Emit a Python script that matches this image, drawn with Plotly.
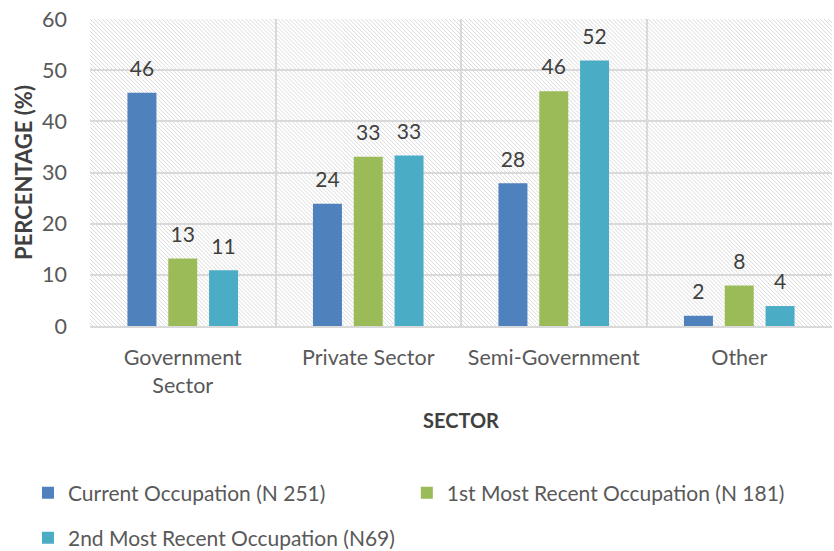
import base64
import plotly.graph_objects as go

categories = ["Government<br>Sector", "Private Sector", "Semi-Government", "Other"]
series_names = ["Current Occupation (N 251)", "1st Most Recent Occupation (N 181)",
                "2nd Most Recent Occupation (N69)"]
current = [45.6, 23.9, 27.9, 2.0]
first_recent = [13.2, 33.1, 45.9, 7.9]
second_recent = [10.9, 33.3, 51.9, 3.9]
colors = ["#4f81bd", "#9bbb59", "#4bacc6"]
y_ticks = [0, 10, 20, 30, 40, 50, 60]

FONT = "Lato, 'Open Sans', sans-serif"
legend_ids = ["legend", "legend2", "legend3"]

# value label raised above the bar by a small invisible second line
label_tpl = ("<span style='font-size:21px'>%{y:.0f}</span>"
             "<br><span style='color:rgba(0,0,0,0)'>.</span>")

fig = go.Figure()
for i, (name, vals) in enumerate(zip(series_names, [current, first_recent, second_recent])):
    fig.add_trace(go.Bar(
        x=categories, y=vals, name=name,
        marker=dict(color=colors[i], line=dict(width=0)),
        texttemplate=label_tpl, textposition="outside",
        textfont=dict(size=9, color="#404040", family=FONT),
        cliponaxis=False,
        legend=legend_ids[i],
    ))

# diagonal hatch background for the plot area
svg = (
    '<svg xmlns="http://www.w3.org/2000/svg" width="744" height="307">'
    '<defs><pattern id="h" patternUnits="userSpaceOnUse" width="4" height="4">'
    '<path d="M-1,-1 L5,5 M-1,3 L1,5 M3,-1 L5,1" stroke="#dadada" stroke-width="1"/>'
    '</pattern></defs><rect width="744" height="307" fill="white"/>'
    '<rect width="744" height="307" fill="url(#h)"/></svg>'
)
src = "data:image/svg+xml;base64," + base64.b64encode(svg.encode()).decode()

leg_common = dict(orientation="h", xanchor="left", yanchor="middle",
                  font=dict(size=21, color="#595959", family=FONT),
                  bgcolor="rgba(0,0,0,0)")

fig.update_layout(
    width=834, height=551,
    margin=dict(l=90, r=2, t=19, b=225, autoexpand=False),
    paper_bgcolor="white", plot_bgcolor="rgba(0,0,0,0)",
    font=dict(family=FONT, color="#595959", size=21),
    barmode="group", bargap=0.34, bargroupgap=0.29,
    images=[dict(source=src, xref="paper", yref="paper", x=0, y=1, sizex=1, sizey=1,
                 sizing="stretch", layer="below", xanchor="left", yanchor="top")],
    xaxis=dict(
        tickson="boundaries", showgrid=True, gridcolor="#d9d9d9", gridwidth=2,
        ticks="", ticklabelstandoff=11, automargin=False,
        showline=True, linecolor="#d9d9d9", linewidth=2,
        tickfont=dict(size=21.5, color="#595959"),
        title=dict(text="<b>SECTOR</b>", font=dict(size=20, color="#404040"), standoff=17),
    ),
    yaxis=dict(
        range=[0, 60], tickvals=y_ticks, showgrid=True, gridcolor="#d9d9d9", gridwidth=2,
        zeroline=False, ticks="", ticklabelstandoff=22, automargin=False,
        tickfont=dict(size=21.5, color="#595959"),
        title=dict(text="<b>PERCENTAGE (%)</b>", font=dict(size=22, color="#404040"), standoff=3),
    ),
    legend=dict(x=-0.0836, y=-0.544, **leg_common),
    legend2=dict(x=0.427, y=-0.544, **leg_common),
    legend3=dict(x=-0.0836, y=-0.691, **leg_common),
    showlegend=True,
)

fig.write_html("out.html", config={"displayModeBar": False},
               post_script="document.body.style.margin='0';")
